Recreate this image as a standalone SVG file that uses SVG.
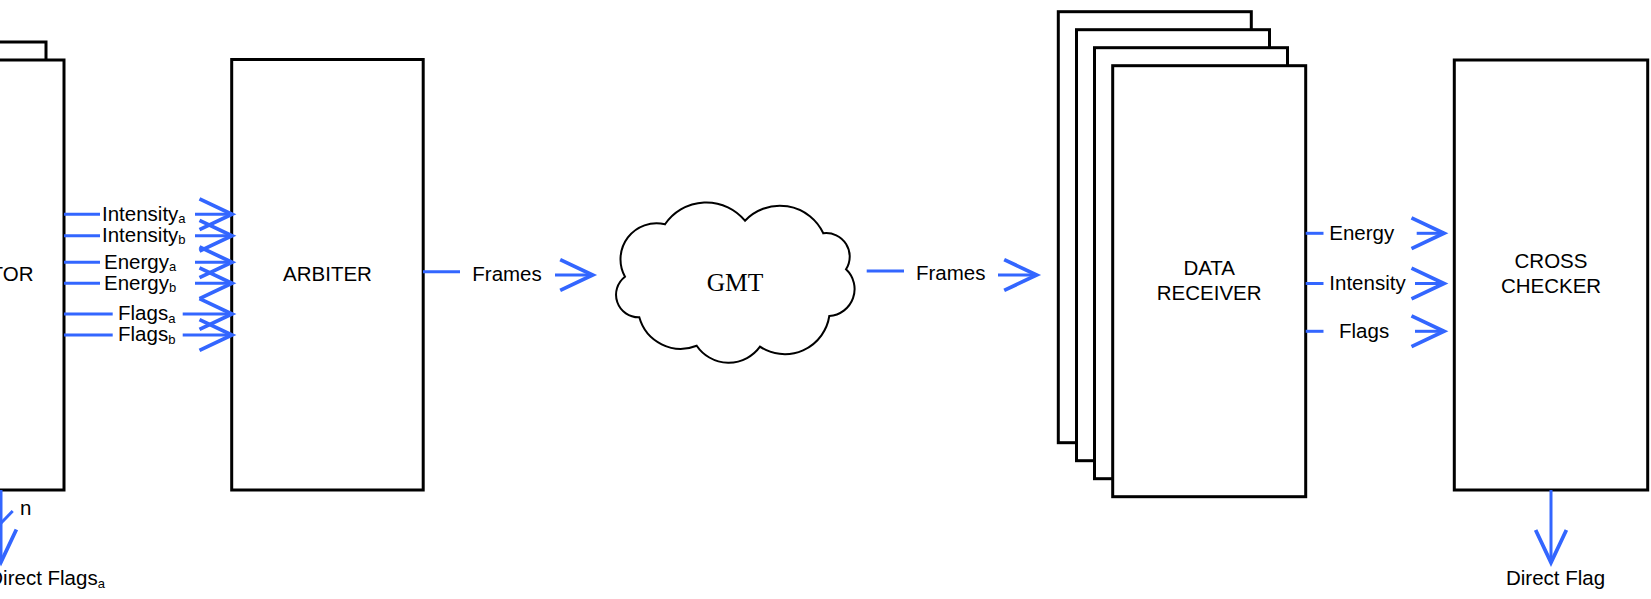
<svg xmlns="http://www.w3.org/2000/svg" width="1651" height="599" viewBox="0 0 1651 599">
  <defs>
    <style>
      .box { fill: #ffffff; stroke: #000000; stroke-width: 3; stroke-linejoin: miter; }
      .cloud { fill: #ffffff; stroke: #000000; stroke-width: 2; }
      .wire { fill: none; stroke: #3366ff; stroke-width: 3; }
      .arrow { fill: none; stroke: #3366ff; stroke-width: 3; marker-end: url(#chevron); }
      .lbl { font-family: "Liberation Sans", Arial, sans-serif; font-size: 20.5px; fill: #000000; }
      .mid { text-anchor: middle; }
      .sub { font-size: 13px; }
      .serif { font-family: "Liberation Serif", "Times New Roman", serif; font-size: 25.5px; fill: #000000; text-anchor: middle; }
    </style>
    <marker id="chevron" markerUnits="userSpaceOnUse" markerWidth="40" markerHeight="40" viewBox="-30 -15 32 30" refX="0" refY="0" orient="auto" overflow="visible">
      <path d="M -26 -12.3 L 0 0 L -26 12.3" fill="none" stroke="#3366ff" stroke-width="3"/>
    </marker>
  </defs>

  <!-- source stack (mostly off the left edge) -->
  <g id="source">
    <rect class="box" x="-146" y="42" width="192" height="430"/>
    <rect class="box" x="-128" y="60" width="192" height="430"/>
    <text class="lbl" x="33.5" y="281" text-anchor="end">TOR</text>
  </g>

  <!-- arbiter -->
  <g id="arbiter">
    <rect class="box" x="231.7" y="59.5" width="191.5" height="430.5"/>
    <text class="lbl mid" x="327.5" y="281">ARBITER</text>
  </g>

  <!-- GMT cloud -->
  <g id="gmt">
    <path class="cloud" d="M 625 276.7
      A 36 36 0 0 1 665 224.3
      A 50 50 0 0 1 745 220.7
      A 48 48 0 0 1 823.3 233.3
      A 23.5 23.5 0 0 1 846 269.3
      A 27 27 0 0 1 829.3 316
      A 45 45 0 0 1 760 346.7
      A 38.6 38.6 0 0 1 696.7 345.7
      A 43 43 0 0 1 639.3 317.3
      A 22.6 22.6 0 0 1 625 276.7 Z"/>
    <text class="serif" x="735" y="291">GMT</text>
  </g>

  <!-- data receiver stack -->
  <g id="data-receiver">
    <rect class="box" x="1058.3" y="11.7" width="193" height="431"/>
    <rect class="box" x="1076.5" y="29.7" width="193" height="431"/>
    <rect class="box" x="1094.5" y="47.7" width="193" height="431"/>
    <rect class="box" x="1112.7" y="65.7" width="193" height="431"/>
    <text class="lbl mid" x="1209.2" y="275">DATA</text>
    <text class="lbl mid" x="1209.2" y="300">RECEIVER</text>
  </g>

  <!-- cross checker -->
  <g id="cross-checker">
    <rect class="box" x="1454.3" y="60" width="193.4" height="430"/>
    <text class="lbl mid" x="1551" y="268">CROSS</text>
    <text class="lbl mid" x="1551" y="293">CHECKER</text>
  </g>

  <!-- connectors -->
  <g id="connectors">
    <!-- source to arbiter -->
    <line class="wire" x1="64" y1="214.3" x2="100" y2="214.3"/>
    <line class="arrow" x1="195" y1="214.3" x2="232" y2="214.3"/>
    <line class="wire" x1="64" y1="235.7" x2="100" y2="235.7"/>
    <line class="arrow" x1="195" y1="235.7" x2="232" y2="235.7"/>
    <line class="wire" x1="64" y1="262.3" x2="100" y2="262.3"/>
    <line class="arrow" x1="195" y1="262.3" x2="232" y2="262.3"/>
    <line class="wire" x1="64" y1="283.3" x2="100" y2="283.3"/>
    <line class="arrow" x1="195" y1="283.3" x2="232" y2="283.3"/>
    <line class="wire" x1="64" y1="314" x2="112.7" y2="314"/>
    <line class="arrow" x1="182.7" y1="314" x2="232" y2="314"/>
    <line class="wire" x1="64" y1="335" x2="112.7" y2="335"/>
    <line class="arrow" x1="182.7" y1="335" x2="232" y2="335"/>
    <text class="lbl" x="102" y="220.5">Intensity<tspan class="sub" dy="2.5">a</tspan></text>
    <text class="lbl" x="102" y="241.8">Intensity<tspan class="sub" dy="2.5">b</tspan></text>
    <text class="lbl" x="104" y="268.5">Energy<tspan class="sub" dy="2.5">a</tspan></text>
    <text class="lbl" x="104" y="289.5">Energy<tspan class="sub" dy="2.5">b</tspan></text>
    <text class="lbl" x="118" y="320.2">Flags<tspan class="sub" dy="2.5">a</tspan></text>
    <text class="lbl" x="118" y="341.2">Flags<tspan class="sub" dy="2.5">b</tspan></text>

    <!-- source direct flags, n-bit bus -->
    <line class="arrow" x1="1" y1="490" x2="1" y2="562"/>
    <line class="wire" x1="12.7" y1="511" x2="-10.7" y2="535"/>
    <text class="lbl" x="20" y="514.5">n</text>
    <text class="lbl" x="-11.7" y="585">Direct Flags<tspan class="sub" dy="2.5">a</tspan></text>

    <!-- arbiter to GMT -->
    <line class="wire" x1="423" y1="271.7" x2="460" y2="271.7"/>
    <text class="lbl" x="472.3" y="281">Frames</text>
    <line class="arrow" x1="555" y1="275" x2="592.7" y2="275"/>

    <!-- GMT to data receiver -->
    <line class="wire" x1="866.7" y1="271" x2="904" y2="271"/>
    <text class="lbl" x="916" y="280">Frames</text>
    <line class="arrow" x1="998" y1="275" x2="1036.7" y2="275"/>

    <!-- data receiver to cross checker -->
    <line class="wire" x1="1305.7" y1="233.3" x2="1323.5" y2="233.3"/>
    <text class="lbl" x="1329.3" y="240">Energy</text>
    <line class="arrow" x1="1416.7" y1="233.3" x2="1444" y2="233.3"/>
    <line class="wire" x1="1305.7" y1="283.5" x2="1323.5" y2="283.5"/>
    <text class="lbl" x="1329.3" y="290">Intensity</text>
    <line class="arrow" x1="1415" y1="283.5" x2="1444" y2="283.5"/>
    <line class="wire" x1="1305.7" y1="331.3" x2="1323.5" y2="331.3"/>
    <text class="lbl" x="1339" y="337.5">Flags</text>
    <line class="arrow" x1="1415" y1="331.3" x2="1444" y2="331.3"/>

    <!-- cross checker output -->
    <line class="arrow" x1="1551" y1="490" x2="1551" y2="562.5"/>
    <text class="lbl" x="1506" y="585">Direct Flag</text>
  </g>
</svg>
